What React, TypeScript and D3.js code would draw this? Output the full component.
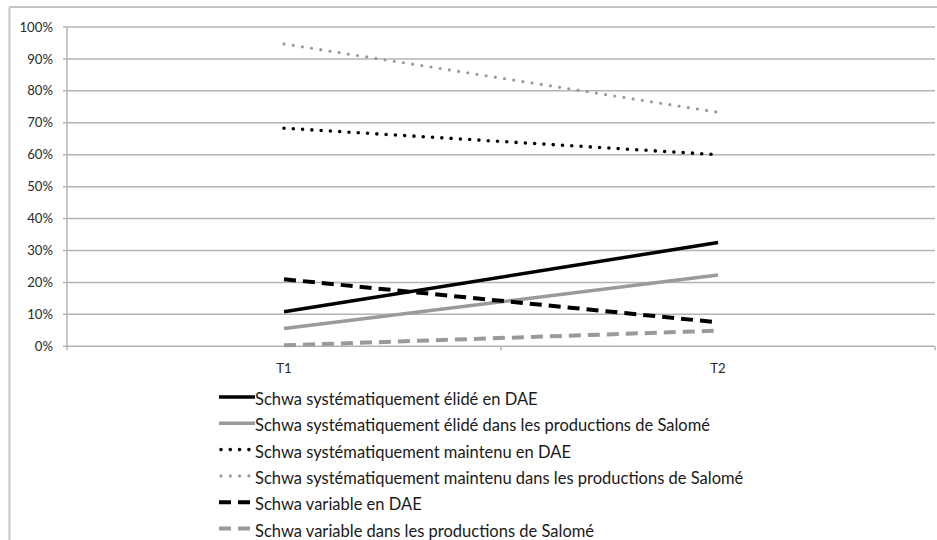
import React from "react";
import * as d3 from "d3";

const categories = ["T1", "T2"];
const yTicks = [0, 0.1, 0.2, 0.3, 0.4, 0.5, 0.6, 0.7, 0.8, 0.9, 1.0];

const seriesNames = [
  "Schwa systématiquement élidé en DAE",
  "Schwa systématiquement élidé dans les productions de Salomé",
  "Schwa systématiquement maintenu en DAE",
  "Schwa systématiquement maintenu dans les productions de Salomé",
  "Schwa variable en DAE",
  "Schwa variable dans les productions de Salomé",
];
const eliDAE = [0.108, 0.325];
const eliSalome = [0.056, 0.223];
const maintDAE = [0.683, 0.6];
const maintSalome = [0.947, 0.733];
const varDAE = [0.21, 0.075];
const varSalome = [0.003, 0.049];

const seriesValues = [eliDAE, eliSalome, maintDAE, maintSalome, varDAE, varSalome];

const BLACK = "#000000";
const GREY = "#9a9a9a";
const styles = [
  { color: BLACK, dash: null, width: 3.5, cap: "butt" },
  { color: GREY, dash: null, width: 3.5, cap: "butt" },
  { color: BLACK, dash: "0 9.3", width: 3.6, cap: "round" },
  { color: GREY, dash: "0 9.3", width: 3.2, cap: "round" },
  { color: BLACK, dash: "12 7", width: 4, cap: "butt" },
  { color: GREY, dash: "12 7", width: 4, cap: "butt" },
];

export default function App() {
  const W = 937;
  const H = 540;
  const left = 67;
  const right = 935;
  const top = 27;
  const bottom = 346.3;

  const x = d3.scaleBand<string>().domain(categories).range([left, right]);
  const y = d3.scaleLinear().domain([0, 1]).range([bottom, top]);
  const cx = (c: string) => (x(c) as number) + x.bandwidth() / 2;
  const line = d3
    .line<number>()
    .x((_, i) => cx(categories[i]))
    .y((d) => y(d));

  const fmt = d3.format(".0%");
  const legendX0 = 219;
  const legendX1 = 255;
  const legendY0 = 397;
  const legendStep = 26.3;

  return (
    <svg
      width={W}
      height={H}
      style={{ position: "absolute", left: 0, top: 0, background: "#fff" }}
      fontFamily="Lato, 'Open Sans', sans-serif"
    >
      <rect x={0} y={0} width={W} height={H} fill="#fff" />
      {/* outer frame */}
      <line x1={9.5} y1={7} x2={W} y2={7} stroke="#c4c4c4" strokeWidth={2} />
      <line x1={9.5} y1={7} x2={9.5} y2={H} stroke="#c4c4c4" strokeWidth={2} />

      {/* gridlines */}
      {yTicks.map((t) => (
        <line
          key={"g" + t}
          x1={left - 4}
          x2={right}
          y1={y(t)}
          y2={y(t)}
          stroke="#b4b4b4"
          strokeWidth={1.5}
        />
      ))}
      {/* y axis */}
      <line x1={left} x2={left} y1={top} y2={bottom} stroke="#b4b4b4" strokeWidth={1.5} />
      {yTicks.map((t) => (
        <text
          key={"t" + t}
          x={53}
          y={y(t)}
          dy="0.35em"
          textAnchor="end"
          fontSize={13.2}
          fill="#2a2a2a"
        >
          {fmt(t)}
        </text>
      ))}
      {/* x axis ticks */}
      {[left, left + x.bandwidth(), right].map((px, i) => (
        <line key={"xt" + i} x1={px} x2={px} y1={bottom} y2={bottom + 4} stroke="#b4b4b4" strokeWidth={1.5} />
      ))}
      {categories.map((c) => (
        <text key={c} x={cx(c)} y={368} dy="0.35em" textAnchor="middle" fontSize={13.2} fill="#2a2a2a">
          {c}
        </text>
      ))}

      {/* series */}
      {seriesValues.map((vals, i) => (
        <path
          key={"s" + i}
          d={line(vals) as string}
          fill="none"
          stroke={styles[i].color}
          strokeWidth={styles[i].width}
          strokeDasharray={styles[i].dash || undefined}
          strokeLinecap={styles[i].cap as any}
        />
      ))}

      {/* legend */}
      {seriesNames.map((name, i) => {
        const ly = legendY0 + i * legendStep;
        return (
          <g key={"l" + i}>
            <line
              x1={legendX0 + (styles[i].cap === "round" ? 2 : 0)}
              x2={legendX1}
              y1={ly}
              y2={ly}
              stroke={styles[i].color}
              strokeWidth={styles[i].width}
              strokeDasharray={styles[i].dash || undefined}
              strokeLinecap={styles[i].cap as any}
            />
            <text x={legendX1} y={ly + 8} fontSize={16.5} fill="#1a1a1a">
              {name}
            </text>
          </g>
        );
      })}
    </svg>
  );
}
